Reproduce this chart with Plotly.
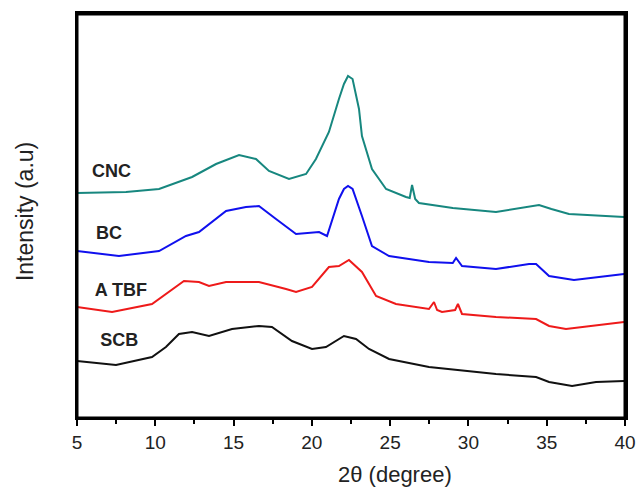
import plotly.graph_objects as go

# 2-theta (degree) and relative intensity (a.u.)
cnc_x = [5.0, 8.13, 10.24, 12.35, 13.88, 15.35, 16.43, 17.26, 18.54, 19.63, 20.26, 21.09, 21.73, 22.05, 22.31, 22.6, 23.01, 23.2, 23.84, 24.74, 26.01, 26.25, 26.4, 26.6, 26.84, 29.0, 31.76, 33.5, 34.51, 35.3, 36.42, 39.94]
cnc_y = [226, 227, 230, 242, 255, 264, 260, 248, 240, 245, 260, 287, 320, 335, 343, 340, 310, 283, 250, 230, 222, 221, 234, 220, 216, 211, 207, 211, 214, 210, 205, 202]

bc_x = [5.0, 7.68, 10.24, 11.96, 12.79, 14.52, 15.79, 16.62, 17.71, 18.99, 20.46, 20.97, 21.73, 22.05, 22.31, 22.6, 23.2, 23.84, 24.93, 27.48, 29.0, 29.21, 29.59, 31.76, 33.87, 34.32, 35.15, 36.74, 39.94]
bc_y = [168, 163, 168, 183, 187, 208, 212, 213, 200, 185, 187, 183, 220, 230, 233, 230, 203, 173, 163, 157, 156, 161, 153, 150, 155, 155, 143, 139, 145]

atbf_x = [5.0, 7.24, 9.79, 10.88, 11.83, 12.79, 13.43, 14.52, 16.62, 18.35, 18.99, 20.01, 21.09, 21.73, 22.37, 23.2, 24.1, 25.37, 27.48, 27.8, 28.0, 28.31, 29.15, 29.33, 29.59, 31.76, 34.32, 35.15, 36.23, 39.94]
atbf_y = [112, 107, 115, 127, 138, 137, 133, 137, 137, 130, 127, 132, 152, 153, 159, 147, 123, 115, 110, 117, 109, 107, 109, 115, 105, 102, 100, 93, 90, 97]

scb_x = [5.0, 7.49, 9.79, 10.68, 11.51, 12.35, 13.43, 14.9, 16.62, 17.45, 18.73, 20.01, 20.9, 21.54, 22.05, 22.82, 23.65, 24.93, 27.48, 31.76, 34.32, 35.15, 36.62, 38.15, 39.94]
scb_y = [58, 54, 62, 72, 85, 87, 83, 90, 93, 92, 78, 70, 72, 78, 83, 80, 70, 60, 52, 45, 42, 37, 33, 37, 38]

names = ["CNC", "BC", "A TBF", "SCB"]
label_x = [7.2, 7.05, 7.8, 7.7]
label_y = [247, 185, 128, 78]
colors = ["#17877f", "#1010ee", "#ee1a1a", "#111111"]

FONT = "Liberation Sans, Arial, sans-serif"
x_range = [5, 40]
y_range = [1, 405]

series = [(cnc_x, cnc_y), (bc_x, bc_y), (atbf_x, atbf_y), (scb_x, scb_y)]

fig = go.Figure()
for (xs, ys), n, c in zip(series, names, colors):
    fig.add_trace(go.Scatter(x=xs, y=ys, mode="lines", name=n,
                             line=dict(color=c, width=2),
                             showlegend=False))

# sample labels as a text trace
fig.add_trace(go.Scatter(x=label_x, y=label_y, mode="text",
                         text=["<b>%s</b>" % n for n in names],
                         textfont=dict(family=FONT, size=18, color="#222222"),
                         showlegend=False, hoverinfo="skip"))

# overlay axes that draw the top and right edges of the frame
fig.add_trace(go.Scatter(x=x_range, y=y_range, mode="lines", line=dict(width=0),
                         xaxis="x2", yaxis="y2", showlegend=False, hoverinfo="skip"))

# axis titles
fig.add_annotation(xref="paper", yref="paper", x=0.58, y=-0.14, text="2θ (degree)",
                   showarrow=False, xanchor="center", yanchor="middle",
                   font=dict(family=FONT, size=22, color="#222222"))
fig.add_annotation(xref="paper", yref="paper", x=-0.095, y=0.512, text="Intensity (a.u)",
                   showarrow=False, xanchor="center", yanchor="middle", textangle=-90,
                   font=dict(family=FONT, size=23, color="#222222"))

fig.add_shape(type="rect", xref="paper", yref="paper", x0=0, y0=0, x1=1, y1=1,
              line=dict(color="#000000", width=3), layer="above")

fig.update_layout(
    width=637, height=487,
    margin=dict(l=77, r=12, t=14, b=69, autoexpand=False),
    plot_bgcolor="white",
    xaxis2=dict(overlaying="x", side="top", range=x_range, showline=True, linecolor="black",
                linewidth=3, showticklabels=False, ticks="", showgrid=False, zeroline=False,
                anchor="y2"),
    yaxis2=dict(overlaying="y", side="right", range=y_range, showline=True, linecolor="black",
                linewidth=3, showticklabels=False, ticks="", showgrid=False, zeroline=False,
                anchor="x2"),
)
fig.update_xaxes(selector=dict(anchor="y"), range=x_range, dtick=5, tick0=5, showgrid=False, zeroline=False,
                 showline=True, linecolor="black", linewidth=2,
                 ticks="outside", ticklen=6, tickwidth=2, tickcolor="black",
                 tickfont=dict(family=FONT, size=19, color="#222222"),
                 minor=dict(ticks="outside", ticklen=4, tickwidth=2, tickcolor="black", dtick=2.5))
fig.update_layout(xaxis=dict(range=x_range, dtick=5, tick0=5, showgrid=False, zeroline=False,
                             showline=True, linecolor="black", linewidth=2,
                             ticks="outside", ticklen=6, tickwidth=2, tickcolor="black",
                             tickfont=dict(family=FONT, size=19, color="#222222"),
                             minor=dict(ticks="outside", ticklen=4, tickwidth=2,
                                        tickcolor="black", dtick=2.5)),
                  yaxis=dict(range=y_range, showgrid=False, zeroline=False, showticklabels=False,
                             showline=True, linecolor="black", linewidth=2, ticks=""))

fig.write_html("out.html")
